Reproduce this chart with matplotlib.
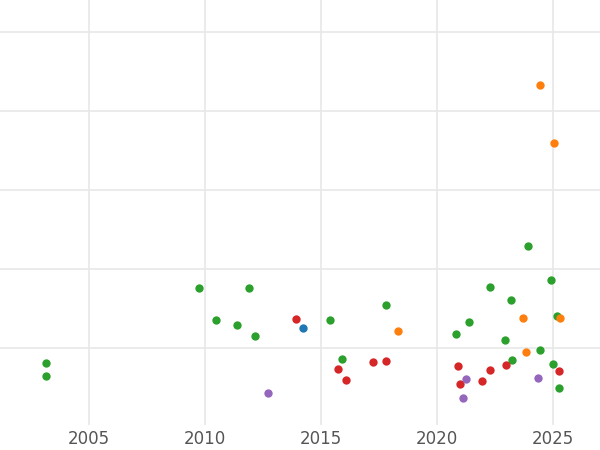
import matplotlib
matplotlib.use("Agg")
import matplotlib.pyplot as plt

green_x = [2003.15, 2003.15, 2009.74, 2010.47, 2011.38, 2011.90, 2012.16, 2015.39, 2015.91, 2017.80,
           2020.82, 2021.38, 2022.28, 2022.93, 2023.19, 2023.23, 2023.92, 2024.44, 2024.91, 2025.17, 2025.00, 2025.26]
green_y = [0.81, 0.65, 1.76, 1.35, 1.29, 1.76, 1.15, 1.35, 0.86, 1.54,
           1.18, 1.33, 1.77, 1.10, 1.61, 0.85, 2.29, 0.97, 1.86, 1.41, 0.80, 0.49]
red_x = [2013.92, 2015.73, 2016.08, 2017.24, 2017.80, 2020.91, 2020.99, 2021.94, 2022.28, 2022.97, 2025.26]
red_y = [1.37, 0.73, 0.59, 0.82, 0.84, 0.77, 0.54, 0.58, 0.72, 0.78, 0.71]
orange_x = [2018.32, 2023.71, 2023.84, 2024.44, 2025.04, 2025.30]
orange_y = [1.22, 1.38, 0.95, 4.33, 3.59, 1.38]
blue_x = [2014.22]
blue_y = [1.25]
purple_x = [2012.72, 2021.25, 2021.12, 2024.35]
purple_y = [0.43, 0.61, 0.37, 0.62]

fig = plt.figure(figsize=(6, 4.5), dpi=100)
ax = fig.add_axes([0, 1 - 425 / 450, 1, 425 / 450])
ax.set_xlim(2001.16, 2027.03)
ax.set_ylim(1 - 77 / 79, 1 + 348 / 79)

for xs, ys, c in [(green_x, green_y, "#2ca02c"), (red_x, red_y, "#d62728"),
                  (orange_x, orange_y, "#ff7f0e"), (blue_x, blue_y, "#1f77b4"),
                  (purple_x, purple_y, "#9467bd")]:
    ax.scatter(xs, ys, s=36, color=c, zorder=3, linewidths=0)

ax.set_xticks([2005, 2010, 2015, 2020, 2025])
ax.set_yticks([1, 2, 3, 4, 5])
ax.set_yticklabels([])
ax.grid(True, color="#e8e8e8", linewidth=1.2)
for s in ax.spines.values():
    s.set_visible(False)
ax.tick_params(axis="both", length=0, labelsize=12, labelcolor="#555555")
ax.tick_params(axis="y", labelleft=False)
fig.savefig("out.png", dpi=100)
